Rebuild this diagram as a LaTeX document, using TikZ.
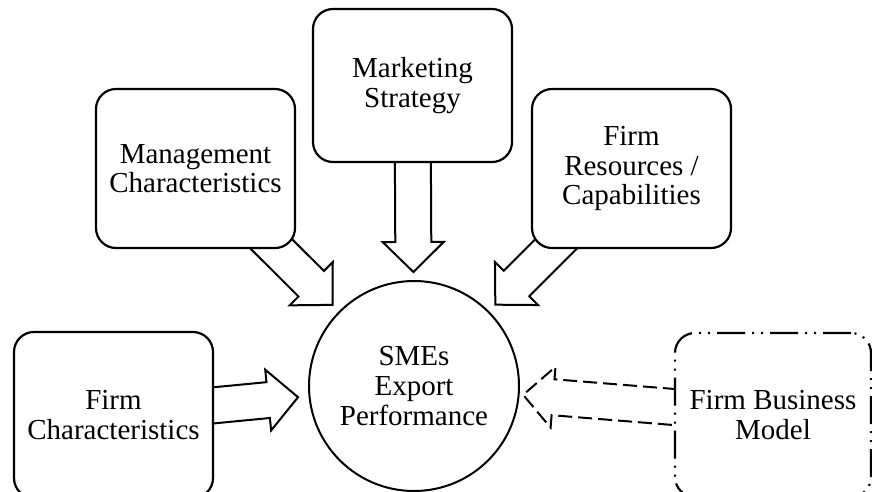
\documentclass[tikz,border=0pt]{standalone}
\usepackage{fontspec}
\setmainfont{Liberation Serif}
\usetikzlibrary{calc,backgrounds}

% geometry of the block arrows
\newcommand\shafthalf{18pt}
\newcommand\headhalf{30.5pt}
\newcommand\arrowheadlen{30pt}

% block arrow from the centre of node #2 towards node #3,
% its tip lying #4 away from the centre of #3
\newcommand\blockarrow[4][]{%
  \coordinate (ba-tip) at ($(#3.center)!#4!(#2.center)$);
  \coordinate (ba-base) at ($(ba-tip)!\arrowheadlen!(#2.center)$);
  \draw[arrowbody,#1]
    ($(#2.center)!\shafthalf!90:(ba-tip)$) --
    ($(ba-base)!\shafthalf!90:(ba-tip)$) --
    ($(ba-base)!\headhalf!90:(ba-tip)$) --
    (ba-tip) --
    ($(ba-base)!\headhalf!-90:(ba-tip)$) --
    ($(ba-base)!\shafthalf!-90:(ba-tip)$) --
    ($(#2.center)!\shafthalf!-90:(ba-tip)$);
}

\tikzset{
  factor/.style={draw, line width=2.2pt, rounded corners=20pt, fill=white,
    align=center, inner sep=0pt, font=\fontsize{29}{29.5}\selectfont},
  outcome/.style={draw, circle, line width=2pt, fill=white, align=center,
    inner sep=0pt, minimum size=210pt, font=\fontsize{29}{30}\selectfont},
  arrowbody/.style={line width=2pt, line join=miter},
  moderator/.style={dash pattern=on 28pt off 7pt on 2pt off 7pt on 2pt off 7pt},
  tentative/.style={dash pattern=on 14pt off 6pt},
}

\begin{document}
\begin{tikzpicture}[x=1pt, y=-1pt]
  \useasboundingbox (0,0) rectangle (872,491);
  \clip (0,0) rectangle (872,491);

  % outcome
  \node[outcome] (sme) at (414,386) {SMEs\\Export\\Performance};

  % determinants
  \node[factor, minimum width=199pt, minimum height=159pt] (mgmt) at (195.5,168.5)
    {Management\\Characteristics};
  \node[factor, minimum width=199pt, minimum height=153pt] (mkt) at (412.5,85.5)
    {Marketing\\Strategy};
  \node[factor, minimum width=199pt, minimum height=159pt] (res) at (631.5,168.5)
    {Firm\\Resources /\\Capabilities};
  \node[factor, minimum width=199pt, minimum height=166pt] (fchar) at (113.5,415)
    {Firm\\Characteristics};
  \node[factor, moderator, minimum width=196pt, minimum height=164pt] (fbm) at (773,415)
    {Firm Business\\Model};

  % influences
  \begin{pgfonlayer}{background}
    \blockarrow{mgmt}{sme}{115pt}
    \blockarrow{mkt}{sme}{114pt}
    \blockarrow{res}{sme}{115pt}
    \blockarrow{fchar}{sme}{116.5pt}
    \blockarrow[tentative]{fbm}{sme}{109.5pt}
  \end{pgfonlayer}
\end{tikzpicture}
\end{document}
